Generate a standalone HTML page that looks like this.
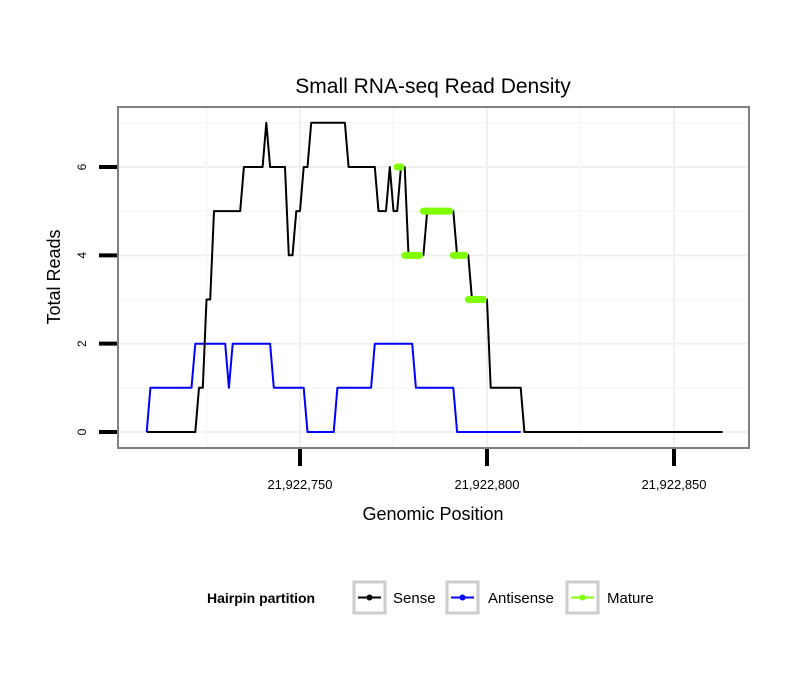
<!DOCTYPE html>
<html><head><meta charset="utf-8"><style>
body{margin:0;background:#fff;}
svg text{font-family:"Liberation Sans",Arial,sans-serif;}
</style></head><body>
<svg id="chart" width="810" height="690" xmlns="http://www.w3.org/2000/svg">
<rect width="810" height="690" fill="#fff"/>
<text x="433" y="93" font-size="21" text-anchor="middle">Small RNA-seq Read Density</text>
<g id="grid"></g>
<g id="series"></g>
<rect x="118" y="107" width="631" height="341" fill="none" stroke="#808080" stroke-width="2"/>
<g id="axes"></g>
<text x="433" y="520" font-size="18" text-anchor="middle">Genomic Position</text>
<text transform="translate(60,277) rotate(-90)" font-size="18" text-anchor="middle">Total Reads</text>
<g>
<text x="207" y="603" font-size="14" font-weight="bold">Hairpin partition</text>
<g>
<rect x="354" y="582" width="31" height="31" fill="#fff" stroke="#ccc" stroke-width="3"/>
<line x1="358" y1="597.5" x2="381" y2="597.5" stroke="#000" stroke-width="2"/><circle cx="369.5" cy="597.5" r="3" fill="#000"/>
<text x="393" y="603" font-size="15">Sense</text></g>
<g>
<rect x="447" y="582" width="31" height="31" fill="#fff" stroke="#ccc" stroke-width="3"/>
<line x1="451" y1="597.5" x2="474" y2="597.5" stroke="#00f" stroke-width="2"/><circle cx="462.5" cy="597.5" r="3" fill="#00f"/>
<text x="488" y="603" font-size="15">Antisense</text></g>
<g>
<rect x="567" y="582" width="31" height="31" fill="#fff" stroke="#ccc" stroke-width="3"/>
<line x1="571" y1="597.5" x2="594" y2="597.5" stroke="#7fff00" stroke-width="2"/><circle cx="582.5" cy="597.5" r="3" fill="#7fff00"/>
<text x="607" y="603" font-size="15">Mature</text></g>
</g>
</svg>
<script>
const basePos = 21922750;
const xTicks = [21922750, 21922800, 21922850];
const xTickLabels = ["21,922,750", "21,922,800", "21,922,850"];
const yTicks = [0, 2, 4, 6];
// sense: offsets -41..112
const senseStart = -41;
const senseValues = [0,0,0,0,0,0,0,0,0,0,0,0,0,0, 1,1,3,3, 5,5,5,5,5,5,5,5, 6,6,6,6,6,6, 7, 6,6,6,6,6, 4,4,5,5,6,6, 7,7,7,7,7,7,7,7,7,7, 6,6,6,6,6,6,6,6, 5,5,5, 6,5,5,6,6, 4,4,4,4,4, 5,5,5,5,5,5,5,5, 4,4,4,4, 3,3,3,3,3, 1,1,1,1,1,1,1,1,1,
0,0,0,0,0,0,0,0,0,0,0,0,0,0,0,0,0,0,0,0,0,0,0,0,0,0,0,0,0,0,0,0,0,0,0,0,0,0,0,0,0,0,0,0,0,0,0,0,0,0,0,0,0,0];
// antisense: offsets -41..59
const antiStart = -41;
const antiValues = [0, 1,1,1,1,1,1,1,1,1,1,1,1, 2,2,2,2,2,2,2,2,2, 1, 2,2,2,2,2,2,2,2,2,2,2, 1,1,1,1,1,1,1,1,1, 0,0,0,0,0,0,0,0, 1,1,1,1,1,1,1,1,1,1, 2,2,2,2,2,2,2,2,2,2,2, 1,1,1,1,1,1,1,1,1,1,1, 0,0,0,0,0,0,0,0,0,0,0,0,0,0,0,0,0,0];
// mature segments
const matureStarts = [26, 28, 33, 41, 45];
const matureEnds   = [27, 32, 40, 44, 49];
const matureVals   = [6, 4, 5, 4, 3];

const NS = "http://www.w3.org/2000/svg";
const xs = p => 300 + (p - basePos) * 3.74;
const xo = o => 300 + o * 3.74;
const ys = v => 432 - v * 44.17;
function mk(tag, attrs, parent){const e=document.createElementNS(NS,tag);for(const k in attrs)e.setAttribute(k,attrs[k]);parent.appendChild(e);return e;}
const grid=document.getElementById('grid'), axes=document.getElementById('axes'), series=document.getElementById('series');
mk('rect',{x:118,y:107,width:631,height:341,fill:'#fff'},grid);
for(let v=-1;v<=7;v+=1){const y=ys(v);if(y<108||y>447)continue;
 const l=mk('line',{x1:119,x2:748,y1:y,y2:y,stroke:v%2===0?'#f0f0f0':'#f7f7f7','stroke-width':v%2===0?2:1.5},grid);
 
 }
for(let p=basePos-50;p<=basePos+100;p+=25){const x=xs(p);if(x<119||x>748)continue;
 const l=mk('line',{x1:x,x2:x,y1:108,y2:447,stroke:(p%50===0)?'#f0f0f0':'#f7f7f7','stroke-width':2},grid);
 
 }
yTicks.forEach(v=>{const y=ys(v);
 const t=mk('line',{x1:99,x2:117,y1:y,y2:y,stroke:'#000','stroke-width':4},axes);
 
 
 const tx=mk('text',{transform:`translate(86,${y}) rotate(-90)`,'font-size':12,'text-anchor':'middle'},axes);tx.textContent=v;
 
 });
xTicks.forEach((p,i)=>{const x=xs(p);
 const t=mk('line',{x1:x,x2:x,y1:449,y2:466,stroke:'#000','stroke-width':4},axes);
 
 
 const tx=mk('text',{x:x,y:489,'font-size':13,'text-anchor':'middle'},axes);tx.textContent=xTickLabels[i];
 
 });
function pts(start,vals){return vals.map((v,i)=>xo(start+i).toFixed(1)+','+ys(v).toFixed(1)).join(' ');}
const a=mk('polyline',{points:pts(antiStart,antiValues),fill:'none',stroke:'#00f','stroke-width':2,'stroke-linejoin':'round'},series);


const s=mk('polyline',{points:pts(senseStart,senseValues),fill:'none',stroke:'#000','stroke-width':2,'stroke-linejoin':'round'},series);


matureStarts.forEach((st,i)=>{
 const x1=xo(st),x2=xo(matureEnds[i]),y=ys(matureVals[i]);
 const l=mk('line',{x1:x1,x2:x2,y1:y,y2:y,stroke:'#7fff00','stroke-width':7,'stroke-linecap':'round'},series);
 
 
});
</script>
</body></html>
